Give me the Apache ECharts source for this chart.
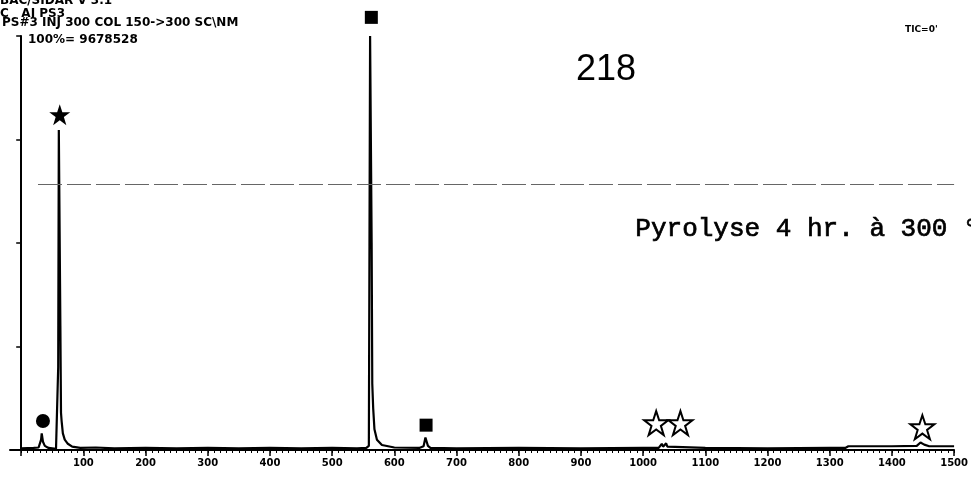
<!DOCTYPE html>
<html>
<head>
<meta charset="utf-8">
<script src="https://cdn.jsdelivr.net/npm/echarts@6/dist/echarts.min.js"></script>
<style>html,body{margin:0;padding:0;background:#fff;}#c{width:971px;height:479px;}</style>
</head>
<body>
<div id="c"></div>
<script>
// Retention (scan number) vs relative intensity (%)
const traceScan = [0, 20, 28, 32, 33, 35, 38, 44, 56, 59.5, 60.5, 62, 63, 64, 65, 67, 70, 75, 82, 95, 120, 150, 200, 250, 300, 350, 400, 450, 500, 540, 555, 559, 560, 561, 562.5, 563.5, 564.5, 566, 568, 572, 580, 600, 640, 647, 650, 652, 654, 658, 700, 800, 900, 1000, 1025, 1030, 1032, 1034, 1037, 1039, 1042, 1100, 1200, 1300, 1325, 1330, 1400, 1440, 1446, 1452, 1460, 1500];
const traceIntensity = [0.4, 0.5, 0.6, 2.5, 4.0, 2.0, 1.0, 0.5, 0.3, 20, 77.3, 77.3, 30, 9, 7, 4, 2.5, 1.5, 0.8, 0.5, 0.6, 0.4, 0.5, 0.4, 0.5, 0.4, 0.5, 0.4, 0.5, 0.4, 0.5, 1, 50, 100, 100, 50, 16, 10, 5, 2.5, 1.2, 0.6, 0.5, 0.9, 3.0, 2.0, 1.0, 0.5, 0.4, 0.5, 0.4, 0.5, 0.5, 1.5, 0.8, 1.2, 1.6, 0.8, 0.5, 0.5, 0.4, 0.5, 0.5, 0.9, 0.9, 1.0, 1.8, 1.3, 0.9, 0.9];

const circleMarks = [[35, 7]];
const filledStarMarks = [[62, 81]];
const squareMarks = [[563, 104.5], [651, 6]];
const hollowStarMarks = [[1021, 6.5], [1060, 6.5], [1449, 5.5]];

const xTickLabels = [100, 200, 300, 400, 500, 600, 700, 800, 900, 1000, 1100, 1200, 1300, 1400, 1500];
const headerLines = ['BAC/SIDAR V 3.1', 'C   AI PS3', 'PS#3 INJ 300 COL 150->300 SC\\NM', '100%= 9678528'];

const trace = traceScan.map((x, i) => [x, traceIntensity[i]]);
const minorTicks = [];
for (let v = 0; v <= 1500; v += 10) minorTicks.push(v);
const majorTicks = [0].concat(xTickLabels);

const starPath = 'path://M12,1 L14.6,8.6 L22.5,8.6 L16.1,13.3 L18.6,21 L12,16.3 L5.4,21 L7.9,13.3 L1.5,8.6 L9.4,8.6 Z';

const chart = echarts.init(document.getElementById('c'), null, {renderer: 'canvas'});
chart.setOption({
  animation: false,
  backgroundColor: '#fff',
  grid: {left: 10, right: 14, top: 36, bottom: 29, containLabel: false},
  xAxis: [{
    type: 'value', min: -18, max: 1500,
    axisLine: {show: true, lineStyle: {color: '#000', width: 2}},
    axisTick: {show: true, customValues: minorTicks, length: 3, lineStyle: {color: '#000', width: 1}},
    axisLabel: {show: true, customValues: xTickLabels, formatter: v => String(v), margin: 8, color: '#000', fontSize: 10, fontWeight: 'bold', fontFamily: 'DejaVu Sans'},
    splitLine: {show: false}
  }, {
    type: 'value', min: -18, max: 1500, position: 'bottom',
    axisLine: {show: false},
    axisTick: {show: true, customValues: majorTicks, length: 6, lineStyle: {color: '#000', width: 1.5}},
    axisLabel: {show: false},
    splitLine: {show: false}
  }],
  yAxis: {
    type: 'value', min: 0, max: 100, interval: 25,
    axisLine: {show: true, onZero: true, lineStyle: {color: '#000', width: 2}},
    axisTick: {show: true, length: 5, lineStyle: {color: '#000', width: 1.5}},
    axisLabel: {show: false},
    splitLine: {show: false}
  },
  series: [{
    type: 'line', data: trace, xAxisIndex: 0, symbol: 'none', smooth: false,
    lineStyle: {color: '#000', width: 2.2},
    markLine: {
      silent: true, symbol: 'none', label: {show: false},
      lineStyle: {color: '#666', width: 1, type: [24, 5]},
      data: [[{coord: [27, 64.3]}, {coord: [1500, 64.3]}]]
    },
    z: 3
  }, {
    type: 'scatter', data: circleMarks, symbol: 'circle', symbolSize: 14, clip: false,
    itemStyle: {color: '#000', opacity: 1}, z: 5
  }, {
    type: 'scatter', data: filledStarMarks, symbol: starPath, symbolSize: 21, clip: false,
    itemStyle: {color: '#000', opacity: 1}, z: 5
  }, {
    type: 'scatter', data: squareMarks, symbol: 'rect', symbolSize: 13, clip: false,
    itemStyle: {color: '#000', opacity: 1}, z: 5
  }, {
    type: 'scatter', data: hollowStarMarks, symbol: starPath, symbolSize: 24, clip: false,
    itemStyle: {color: '#fff', borderColor: '#000', borderWidth: 2, opacity: 1}, z: 5
  }],
  graphic: [
    {type: 'text', left: 0, top: -5, style: {text: headerLines[0], font: 'bold 12px "DejaVu Sans"', fill: '#000'}},
    {type: 'text', left: 0, top: 8, style: {text: headerLines[1], font: 'bold 12px "DejaVu Sans"', fill: '#000'}},
    {type: 'text', left: 2, top: 17, style: {text: headerLines[2], font: 'bold 12px "DejaVu Sans"', fill: '#000'}},
    {type: 'text', left: 28, top: 34, style: {text: headerLines[3], font: 'bold 12px "DejaVu Sans"', fill: '#000'}},
    {type: 'text', left: 905, top: 25, style: {text: 'TIC=0\'', font: 'bold 9px "DejaVu Sans"', fill: '#000'}},
    {type: 'text', left: 576, top: 52, style: {text: '218', font: '36px "Liberation Sans"', fill: '#000'}},
    {type: 'text', left: 635, top: 216, style: {text: 'Pyrolyse 4 hr. à 300 °C', font: '26px "Liberation Mono"', fill: '#000', stroke: '#000', lineWidth: 0.7}}
  ]
});
</script>
</body>
</html>
